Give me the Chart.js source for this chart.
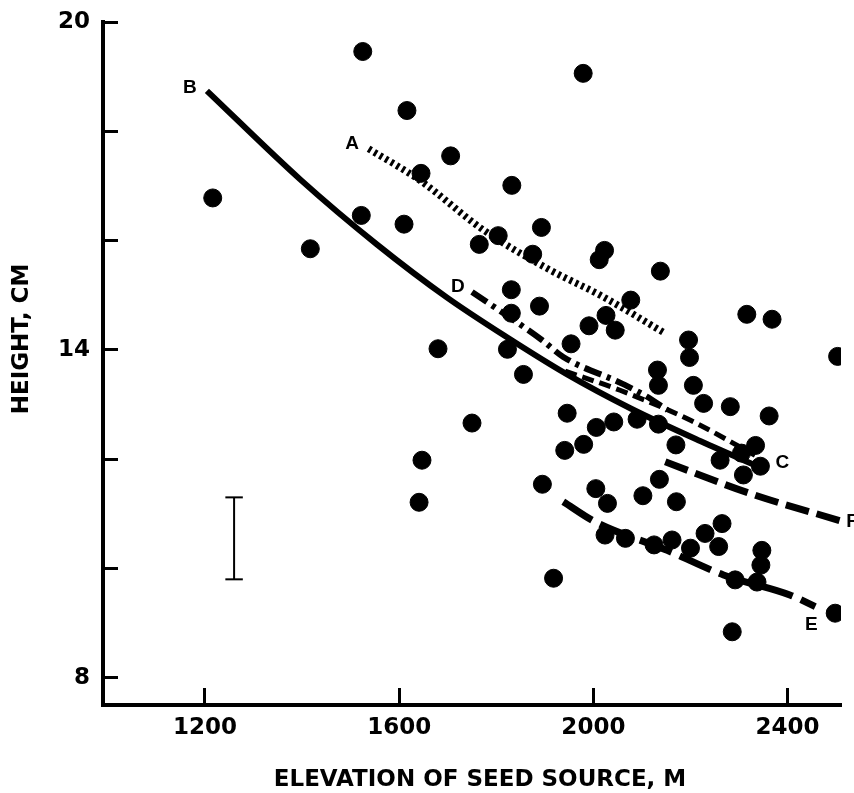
<!DOCTYPE html>
<html>
<head>
<meta charset="utf-8">
<script src="https://cdn.jsdelivr.net/npm/chart.js@4.4.1/dist/chart.umd.min.js"></script>
<style>
  html, body { margin: 0; padding: 0; background: #fff; }
  #wrap { width: 854px; height: 793px; }
</style>
</head>
<body>
<div id="wrap"><canvas id="grafico"></canvas></div>
<script>
// eixos
const elevTicks = [1200, 1600, 2000, 2400];
const heightTicks = [8, 10, 12, 14, 16, 18, 20];
const heightLabelled = [8, 14, 20];

// pontos (procedencias)
const seedElev = [1216, 1417, 1525, 1616, 1706, 1645, 1522, 1610, 1979, 1832,
  1893, 1804, 1765, 1875, 2023, 2012, 2138, 1831, 1889, 1831,
  2077, 2026, 1991, 2045, 1954, 2316, 2368, 2503, 2196, 2198,
  1680, 1823, 1856, 2132, 2134, 2206, 2227, 2282, 2362, 1946,
  2042, 2090, 2006, 2134, 1980, 1941, 2170, 2334, 2305, 2261,
  2344, 2309, 1750, 1647, 1641, 1895, 2005, 2029, 1918, 2102,
  2136, 2171, 2024, 2066, 2125, 2162, 2200, 2230, 2265, 2258,
  2347, 2345, 2337, 2292, 2498, 2286];
const seedHeight = [16.78, 15.85, 19.46, 18.38, 17.55, 17.23, 16.46, 16.30, 19.06, 17.01,
  16.24, 16.09, 15.93, 15.75, 15.82, 15.65, 15.44, 15.10, 14.80, 14.67,
  14.91, 14.63, 14.44, 14.36, 14.11, 14.65, 14.56, 13.88, 14.18, 13.86,
  14.02, 14.01, 13.55, 13.63, 13.35, 13.35, 13.02, 12.96, 12.79, 12.84,
  12.68, 12.73, 12.58, 12.64, 12.27, 12.16, 12.26, 12.25, 12.11, 11.98,
  11.87, 11.71, 12.66, 11.98, 11.21, 11.54, 11.46, 11.19, 9.82, 11.33,
  11.63, 11.22, 10.61, 10.55, 10.43, 10.52, 10.37, 10.64, 10.82, 10.40,
  10.33, 10.06, 9.75, 9.79, 9.18, 8.84];

// curvas
const curveAElev = [1537, 1643, 1774, 1911, 2014, 2148];
const curveAHeight = [17.68, 17.10, 16.19, 15.46, 15.00, 14.30];
const curveBElev = [1204, 1396, 1554, 1698, 1822, 1946, 2076, 2220, 2356];
const curveBHeight = [18.74, 17.12, 15.93, 14.96, 14.23, 13.55, 12.93, 12.33, 11.80];
const curveCElev = [1942, 2055, 2200, 2333];
const curveCHeight = [13.61, 13.26, 12.71, 12.07];
const curveDElev = [1750, 1894, 1938, 2057, 2109, 2152];
const curveDHeight = [15.06, 14.18, 13.87, 13.39, 13.15, 12.90];
const curveEElev = [1938, 2004, 2152, 2268, 2406, 2457];
const curveEHeight = [11.22, 10.85, 10.33, 9.88, 9.51, 9.30];
const curveFElev = [2148, 2323, 2509];
const curveFHeight = [11.95, 11.37, 10.87];

// rotulos das curvas
const curveLetters = ['A', 'B', 'C', 'D', 'E', 'F'];
const letterElev = [1503, 1169, 2389, 1721, 2449, 2533];
const letterHeight = [17.78, 18.79, 11.94, 15.16, 8.96, 10.85];

// barra de erro
const errElev = 1260;
const errLow = 9.8;
const errHigh = 11.3;
const errCapHalf = 18;

const xTitle = 'ELEVATION OF SEED SOURCE, M';
const yTitle = 'HEIGHT, CM';

function pares(xs, ys) {
  return xs.map((x, i) => ({ x, y: ys[i] }));
}

function curva(xs, ys, largura, traco) {
  return {
    type: 'line',
    data: pares(xs, ys),
    borderColor: '#000',
    borderWidth: largura,
    borderDash: traco,
    pointRadius: 0,
    cubicInterpolationMode: 'monotone',
    fill: false,
  };
}

function segmento(a, b) {
  return {
    type: 'line',
    data: [a, b],
    borderColor: '#000',
    borderWidth: 2,
    pointRadius: 0,
    fill: false,
  };
}

const letras = {
  id: 'letras',
  afterDatasetsDraw(chart) {
    const { ctx, scales } = chart;
    ctx.save();
    ctx.fillStyle = '#000';
    ctx.font = 'bold 19px "Liberation Sans", Arial, sans-serif';
    ctx.textAlign = 'center';
    ctx.textBaseline = 'middle';
    curveLetters.forEach((t, i) => {
      ctx.fillText(t, scales.x.getPixelForValue(letterElev[i]), scales.y.getPixelForValue(letterHeight[i]));
    });
    ctx.font = 'bold 23px "DejaVu Sans", sans-serif';
    ctx.fillText(xTitle, 480, 780);
    ctx.translate(22, 339);
    ctx.rotate(-Math.PI / 2);
    ctx.fillText(yTitle, 0, 0);
    ctx.restore();
  },
};

const fonteTicks = { family: 'DejaVu Sans', weight: 'bold', size: 23 };

new Chart(document.getElementById('grafico'), {
  type: 'scatter',
  data: {
    datasets: [
      {
        data: pares(seedElev, seedHeight),
        backgroundColor: '#000',
        borderColor: '#000',
        pointRadius: 9,
        pointHoverRadius: 9,
      },
      curva(curveBElev, curveBHeight, 6, []),
      curva(curveAElev, curveAHeight, 7, [3, 3.5]),
      curva(curveCElev, curveCHeight, 5, [12, 6]),
      curva(curveDElev, curveDHeight, 6, [18, 6, 4, 6]),
      curva(curveEElev, curveEHeight, 7, [34, 9]),
      curva(curveFElev, curveFHeight, 7, [24, 8]),
      segmento({ x: errElev, y: errLow }, { x: errElev, y: errHigh }),
      segmento({ x: errElev - errCapHalf, y: errHigh }, { x: errElev + errCapHalf, y: errHigh }),
      segmento({ x: errElev - errCapHalf, y: errLow }, { x: errElev + errCapHalf, y: errLow }),
    ],
  },
  options: {
    responsive: true,
    maintainAspectRatio: false,
    animation: false,
    events: [],
    layout: { padding: { left: 0, right: 13, top: 22, bottom: 0 } },
    plugins: {
      legend: { display: false },
      tooltip: { enabled: false },
    },
    scales: {
      x: {
        type: 'linear',
        min: 990,
        max: 2510,
        afterBuildTicks: (s) => { s.ticks = elevTicks.map((v) => ({ value: v })); },
        afterFit: (s) => {
          s.height = 88;
          s.paddingLeft = 0;
          s.paddingRight = 0;
        },
        ticks: {
          color: '#000',
          font: fonteTicks,
          padding: 26,
          maxRotation: 0,
          autoSkip: false,
          callback: (v) => String(v),
        },
        grid: {
          drawOnChartArea: false,
          drawTicks: true,
          tickLength: -17,
          tickWidth: 3,
          tickColor: '#000',
        },
        border: { display: true, color: '#000', width: 4 },
      },
      y: {
        type: 'linear',
        min: 7.5,
        max: 20,
        afterBuildTicks: (s) => { s.ticks = heightTicks.map((v) => ({ value: v })); },
        afterFit: (s) => {
          s.width = 103;
          s.paddingTop = 0;
          s.paddingBottom = 0;
        },
        ticks: {
          color: '#000',
          font: fonteTicks,
          padding: 28,
          autoSkip: false,
          callback: (v) => (heightLabelled.includes(v) ? String(v) : ''),
        },
        grid: {
          drawOnChartArea: false,
          drawTicks: true,
          tickLength: -15,
          tickWidth: 3,
          tickColor: '#000',
        },
        border: { display: true, color: '#000', width: 4 },
      },
    },
  },
  plugins: [letras],
});
</script>
</body>
</html>
